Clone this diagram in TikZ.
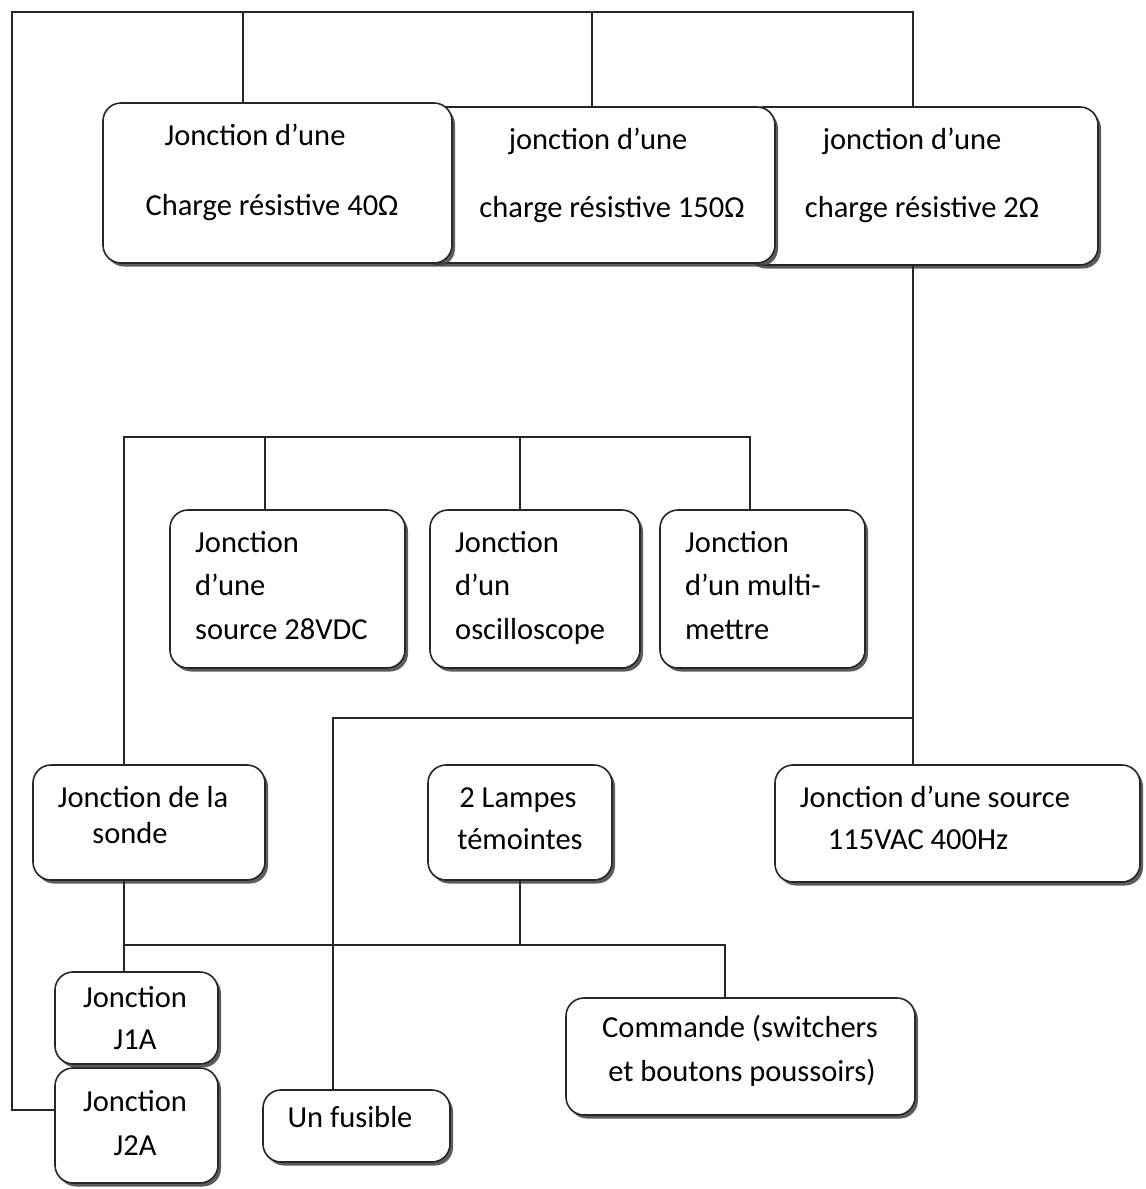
\documentclass[tikz,border=0pt]{standalone}
\usepackage{fontspec}
\setmainfont{Carlito}
\usetikzlibrary{shadows}
\begin{document}
\begin{tikzpicture}[x=1pt,y=-1pt,
  box/.style={draw=black!85,line width=1.6pt,rounded corners=18pt,fill=white,inner sep=0pt,
    drop shadow={shadow xshift=3pt,shadow yshift=-3.5pt,fill=black!75,opacity=0.85}},
  wire/.style={draw=black!85,line width=1.5pt},
  txt/.style={font=\fontsize{30.5}{32}\selectfont,inner sep=0pt,text height=21pt,text depth=6pt},
  ltxt/.style={txt,anchor=west}]
\useasboundingbox[fill=white] (0,0) rectangle (1146,1189);
% top boxes (drawn right to left so each covers the next)
\node[box,minimum width=353pt,minimum height=158pt] (b3) at (921.5,186) {};
\node[box,minimum width=355pt,minimum height=156pt] (b2) at (597.5,185) {};
\node[box,minimum width=349pt,minimum height=160pt] (b1) at (277.5,183) {};
\node[txt] (b1t1) at (255,138) {Jonction d’une};
\node[txt] (b1t2) at (272,208) {Charge résistive 40Ω};
\node[txt] (b2t1) at (598,142) {jonction d’une};
\node[txt] (b2t2) at (612,210) {charge résistive 150Ω};
\node[txt] (b3t1) at (912,142) {jonction d’une};
\node[txt] (b3t2) at (922,210) {charge résistive 2Ω};
% middle boxes
\node[box,minimum width=235pt,minimum height=158pt] (b4) at (287.5,589) {};
\node[box,minimum width=210pt,minimum height=158pt] (b5) at (535,589) {};
\node[box,minimum width=205pt,minimum height=158pt] (b6) at (762.5,589) {};
\node[ltxt] (b4t1) at (195,545) {Jonction};
\node[ltxt] (b4t2) at (195,588) {d’une};
\node[ltxt] (b4t3) at (195,632) {source 28VDC};
\node[ltxt] (b5t1) at (455,545) {Jonction};
\node[ltxt] (b5t2) at (455,588) {d’un};
\node[ltxt] (b5t3) at (455,632) {oscilloscope};
\node[ltxt] (b6t1) at (685,545) {Jonction};
\node[ltxt] (b6t2) at (685,588) {d’un multi-};
\node[ltxt] (b6t3) at (685,632) {mettre};
% third row
\node[box,minimum width=232pt,minimum height=115pt] (sonde) at (149,822.5) {};
\node[box,minimum width=184pt,minimum height=115pt] (lamp) at (520,822.5) {};
\node[box,minimum width=365pt,minimum height=117pt] (ac) at (957.5,823.5) {};
\node[txt] (st1) at (143,800) {Jonction de la};
\node[txt] (st2) at (130,836) {sonde};
\node[txt] (lt1) at (518,800) {2 Lampes};
\node[txt] (lt2) at (520,842) {témointes};
\node[txt] (at1) at (935,800) {Jonction d’une source};
\node[txt] (at2) at (918,842) {115VAC 400Hz};
% bottom row
\node[box,minimum width=163pt,minimum height=115pt] (j2) at (136.5,1125.5) {};
\node[box,minimum width=163pt,minimum height=92pt] (j1) at (136.5,1018) {};
\node[box,minimum width=187pt,minimum height=72pt] (fus) at (356.5,1126) {};
\node[box,minimum width=349pt,minimum height=117pt] (cmd) at (740.5,1056.5) {};
\node[txt] (j1t1) at (135,1000) {Jonction};
\node[txt] (j1t2) at (135,1042) {J1A};
\node[txt] (j2t1) at (135,1104) {Jonction};
\node[txt] (j2t2) at (135,1148) {J2A};
\node[txt] (ft) at (350,1120) {Un fusible};
\node[txt] (ct1) at (740,1030) {Commande (switchers};
\node[txt] (ct2) at (742,1074) {et boutons poussoirs)};
% wire corners
\coordinate (c0) at (12,12);
\coordinate (lc) at (12,1110);
\coordinate (t1) at (243,12);
\coordinate (t2) at (592,12);
\coordinate (t3) at (913,12);
\coordinate (m1) at (913,718);
\coordinate (m2) at (333,718);
\coordinate (h0) at (124,437);
\coordinate (h1) at (265,437);
\coordinate (h2) at (520,437);
\coordinate (h3) at (750,437);
\coordinate (g0) at (124,945);
\coordinate (g1) at (520,945);
\coordinate (g2) at (725,945);
% wires
\draw[wire] (lc -| j2.west) -- (lc) -- (c0) -- (t3) -- (t3 |- b3.north);
\draw[wire] (t1) -- (t1 |- b1.north);
\draw[wire] (t2) -- (t2 |- b2.north);
\draw[wire] (t3 |- b3.south) -- (t3 |- ac.north);
\draw[wire] (m1) -- (m2) -- (m2 |- fus.north);
\draw[wire] (h0 |- sonde.north) -- (h0) -- (h3) -- (h3 |- b6.north);
\draw[wire] (h1) -- (h1 |- b4.north);
\draw[wire] (h2) -- (h2 |- b5.north);
\draw[wire] (g0 |- sonde.south) -- (g0 |- j1.north);
\draw[wire] (g0) -- (g2) -- (g2 |- cmd.north);
\draw[wire] (g1 |- lamp.south) -- (g1);
\end{tikzpicture}
\end{document}
